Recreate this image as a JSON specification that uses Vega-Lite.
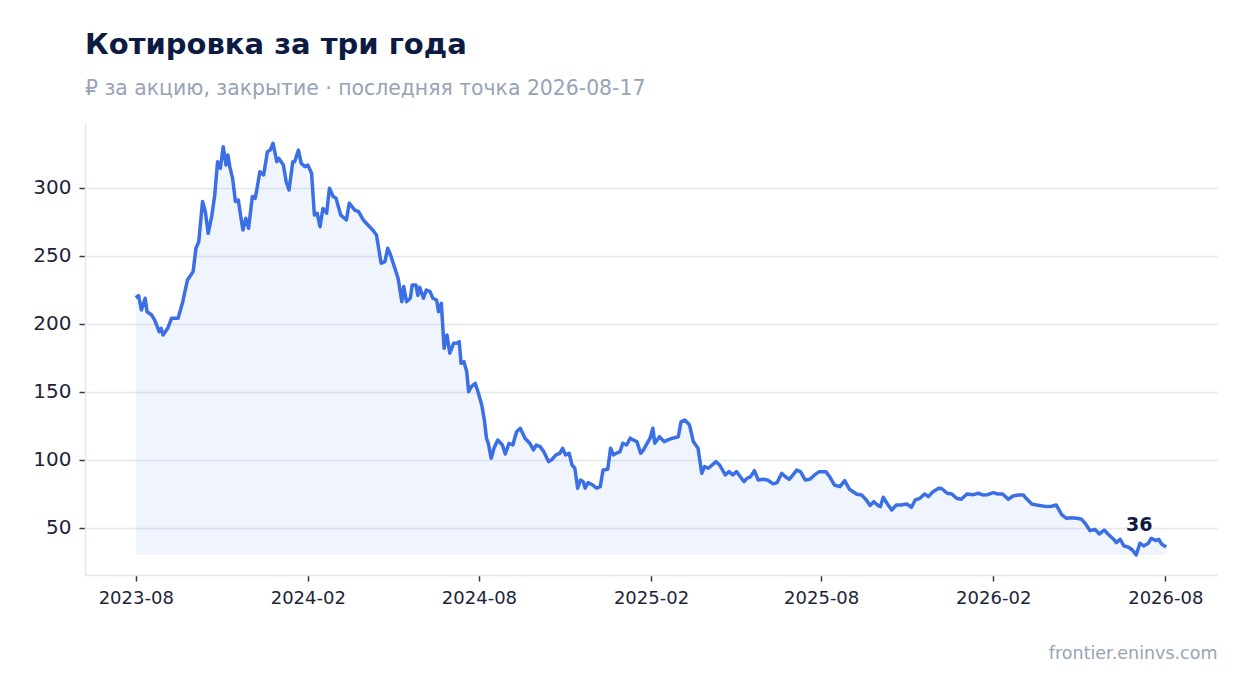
{
  "$schema": "https://vega.github.io/schema/vega-lite/v6.json",
  "autosize": {"type": "none"},
  "width": 1132,
  "height": 452,
  "padding": {"left": 85, "top": 123, "right": 30, "bottom": 118},
  "background": "white",
  "title": {
    "text": "Котировка за три года",
    "subtitle": "₽ за акцию, закрытие · последняя точка 2026-08-17",
    "anchor": "start",
    "frame": "group",
    "fontSize": 29,
    "fontWeight": "bold",
    "color": "#0c1b42",
    "subtitleFontSize": 20.4,
    "subtitleColor": "#97a3b6",
    "subtitlePadding": 19,
    "offset": 24
  },
  "data": {
    "values": [
      {"date": "2023-08-17", "close": 219.3},
      {"date": "2023-08-20", "close": 220.8},
      {"date": "2023-08-23", "close": 210.3},
      {"date": "2023-08-27", "close": 218.9},
      {"date": "2023-08-29", "close": 209},
      {"date": "2023-09-03", "close": 206.6},
      {"date": "2023-09-06", "close": 203},
      {"date": "2023-09-11", "close": 194.3},
      {"date": "2023-09-13", "close": 196.8},
      {"date": "2023-09-15", "close": 191.9},
      {"date": "2023-09-20", "close": 196.8},
      {"date": "2023-09-24", "close": 204.2},
      {"date": "2023-10-01", "close": 204.2},
      {"date": "2023-10-06", "close": 216.4},
      {"date": "2023-10-11", "close": 232.4},
      {"date": "2023-10-17", "close": 238.5},
      {"date": "2023-10-20", "close": 255.7},
      {"date": "2023-10-23", "close": 260.5},
      {"date": "2023-10-27", "close": 290},
      {"date": "2023-10-30", "close": 282.6},
      {"date": "2023-11-02", "close": 266.7},
      {"date": "2023-11-06", "close": 280.1},
      {"date": "2023-11-09", "close": 294.9},
      {"date": "2023-11-12", "close": 319.3},
      {"date": "2023-11-15", "close": 314.5},
      {"date": "2023-11-18", "close": 330.4},
      {"date": "2023-11-21", "close": 316.9},
      {"date": "2023-11-23", "close": 324.3},
      {"date": "2023-11-25", "close": 315.7},
      {"date": "2023-11-28", "close": 307.1},
      {"date": "2023-12-01", "close": 290},
      {"date": "2023-12-04", "close": 291.2},
      {"date": "2023-12-07", "close": 277.7},
      {"date": "2023-12-09", "close": 269.1},
      {"date": "2023-12-12", "close": 277.7},
      {"date": "2023-12-15", "close": 270.4},
      {"date": "2023-12-19", "close": 293.7},
      {"date": "2023-12-22", "close": 292.4},
      {"date": "2023-12-24", "close": 299.8},
      {"date": "2023-12-27", "close": 312},
      {"date": "2023-12-31", "close": 309.6},
      {"date": "2024-01-04", "close": 326.7},
      {"date": "2024-01-07", "close": 327.9},
      {"date": "2024-01-10", "close": 332.9},
      {"date": "2024-01-14", "close": 319.3},
      {"date": "2024-01-16", "close": 321.8},
      {"date": "2024-01-21", "close": 316.9},
      {"date": "2024-01-24", "close": 304.6},
      {"date": "2024-01-27", "close": 298.5},
      {"date": "2024-01-31", "close": 319.3},
      {"date": "2024-02-02", "close": 319.3},
      {"date": "2024-02-06", "close": 327.9},
      {"date": "2024-02-09", "close": 318.1},
      {"date": "2024-02-13", "close": 315.7},
      {"date": "2024-02-16", "close": 316.9},
      {"date": "2024-02-20", "close": 310.8},
      {"date": "2024-02-23", "close": 280.1},
      {"date": "2024-02-26", "close": 281.4},
      {"date": "2024-02-29", "close": 271.5},
      {"date": "2024-03-03", "close": 285},
      {"date": "2024-03-07", "close": 281.4},
      {"date": "2024-03-10", "close": 299.8},
      {"date": "2024-03-14", "close": 293.7},
      {"date": "2024-03-17", "close": 292.4},
      {"date": "2024-03-19", "close": 287.5},
      {"date": "2024-03-22", "close": 280.1},
      {"date": "2024-03-28", "close": 276.5},
      {"date": "2024-03-31", "close": 288.8},
      {"date": "2024-04-06", "close": 283.8},
      {"date": "2024-04-10", "close": 282.6},
      {"date": "2024-04-15", "close": 276.5},
      {"date": "2024-04-20", "close": 272.8},
      {"date": "2024-04-25", "close": 269.1},
      {"date": "2024-04-29", "close": 265.4},
      {"date": "2024-05-04", "close": 244.6},
      {"date": "2024-05-08", "close": 245.8},
      {"date": "2024-05-11", "close": 255.7},
      {"date": "2024-05-14", "close": 250.7},
      {"date": "2024-05-18", "close": 242.2},
      {"date": "2024-05-22", "close": 233.6},
      {"date": "2024-05-26", "close": 216.4},
      {"date": "2024-05-28", "close": 227.5},
      {"date": "2024-05-31", "close": 216.4},
      {"date": "2024-06-04", "close": 218.9},
      {"date": "2024-06-06", "close": 228.7},
      {"date": "2024-06-10", "close": 228.7},
      {"date": "2024-06-12", "close": 221},
      {"date": "2024-06-14", "close": 227},
      {"date": "2024-06-18", "close": 218.9},
      {"date": "2024-06-21", "close": 225},
      {"date": "2024-06-25", "close": 223.8},
      {"date": "2024-06-28", "close": 218.9},
      {"date": "2024-07-02", "close": 217.6},
      {"date": "2024-07-04", "close": 209},
      {"date": "2024-07-07", "close": 215.2},
      {"date": "2024-07-10", "close": 182.1},
      {"date": "2024-07-13", "close": 191.9},
      {"date": "2024-07-16", "close": 178.5},
      {"date": "2024-07-20", "close": 185.8},
      {"date": "2024-07-23", "close": 185.8},
      {"date": "2024-07-26", "close": 187},
      {"date": "2024-07-28", "close": 171.1},
      {"date": "2024-07-31", "close": 172.3},
      {"date": "2024-08-03", "close": 165},
      {"date": "2024-08-05", "close": 150.2},
      {"date": "2024-08-08", "close": 153.9},
      {"date": "2024-08-12", "close": 156.4},
      {"date": "2024-08-15", "close": 150.2},
      {"date": "2024-08-19", "close": 140.4},
      {"date": "2024-08-22", "close": 128.2},
      {"date": "2024-08-24", "close": 116},
      {"date": "2024-08-26", "close": 112},
      {"date": "2024-08-29", "close": 101.3},
      {"date": "2024-09-01", "close": 108.6},
      {"date": "2024-09-05", "close": 114.7},
      {"date": "2024-09-10", "close": 111},
      {"date": "2024-09-13", "close": 104.4},
      {"date": "2024-09-17", "close": 112.3},
      {"date": "2024-09-21", "close": 111},
      {"date": "2024-09-25", "close": 120.8},
      {"date": "2024-09-29", "close": 123.3},
      {"date": "2024-10-04", "close": 116},
      {"date": "2024-10-09", "close": 112.3},
      {"date": "2024-10-13", "close": 107.4},
      {"date": "2024-10-16", "close": 111},
      {"date": "2024-10-20", "close": 109.8},
      {"date": "2024-10-24", "close": 106.1},
      {"date": "2024-10-29", "close": 98.8},
      {"date": "2024-11-01", "close": 100},
      {"date": "2024-11-06", "close": 103.7},
      {"date": "2024-11-10", "close": 104.9},
      {"date": "2024-11-13", "close": 108.6},
      {"date": "2024-11-16", "close": 103.7},
      {"date": "2024-11-20", "close": 104.9},
      {"date": "2024-11-23", "close": 96.3},
      {"date": "2024-11-26", "close": 93.9},
      {"date": "2024-11-29", "close": 79.2},
      {"date": "2024-12-02", "close": 85.3},
      {"date": "2024-12-05", "close": 84},
      {"date": "2024-12-07", "close": 79.2},
      {"date": "2024-12-10", "close": 83.3},
      {"date": "2024-12-15", "close": 81.6},
      {"date": "2024-12-19", "close": 79.2},
      {"date": "2024-12-23", "close": 80.4},
      {"date": "2024-12-26", "close": 92.6},
      {"date": "2024-12-31", "close": 93.1},
      {"date": "2025-01-03", "close": 108.6},
      {"date": "2025-01-06", "close": 103.7},
      {"date": "2025-01-09", "close": 104.9},
      {"date": "2025-01-13", "close": 106.1},
      {"date": "2025-01-16", "close": 112.3},
      {"date": "2025-01-20", "close": 111},
      {"date": "2025-01-24", "close": 116},
      {"date": "2025-01-27", "close": 114.7},
      {"date": "2025-01-31", "close": 113.5},
      {"date": "2025-02-04", "close": 104.9},
      {"date": "2025-02-07", "close": 107.4},
      {"date": "2025-02-11", "close": 112.3},
      {"date": "2025-02-14", "close": 116},
      {"date": "2025-02-17", "close": 123.3},
      {"date": "2025-02-19", "close": 112.3},
      {"date": "2025-02-24", "close": 117.1},
      {"date": "2025-03-01", "close": 113.5},
      {"date": "2025-03-05", "close": 114.7},
      {"date": "2025-03-10", "close": 116},
      {"date": "2025-03-16", "close": 117.1},
      {"date": "2025-03-19", "close": 128.2},
      {"date": "2025-03-23", "close": 129.4},
      {"date": "2025-03-28", "close": 125.7},
      {"date": "2025-04-01", "close": 113.5},
      {"date": "2025-04-06", "close": 108.6},
      {"date": "2025-04-10", "close": 90.2},
      {"date": "2025-04-13", "close": 95.1},
      {"date": "2025-04-17", "close": 93.9},
      {"date": "2025-04-21", "close": 96.3},
      {"date": "2025-04-25", "close": 98.8},
      {"date": "2025-04-29", "close": 96.3},
      {"date": "2025-05-05", "close": 89},
      {"date": "2025-05-09", "close": 91.4},
      {"date": "2025-05-13", "close": 89},
      {"date": "2025-05-17", "close": 91.4},
      {"date": "2025-05-21", "close": 87.7},
      {"date": "2025-05-25", "close": 84},
      {"date": "2025-05-28", "close": 86.5},
      {"date": "2025-06-01", "close": 87.7},
      {"date": "2025-06-05", "close": 92.1},
      {"date": "2025-06-09", "close": 85.3},
      {"date": "2025-06-14", "close": 85.8},
      {"date": "2025-06-19", "close": 85.3},
      {"date": "2025-06-25", "close": 82.4},
      {"date": "2025-06-29", "close": 83.3},
      {"date": "2025-07-04", "close": 90.2},
      {"date": "2025-07-08", "close": 87.7},
      {"date": "2025-07-12", "close": 85.8},
      {"date": "2025-07-16", "close": 89},
      {"date": "2025-07-20", "close": 92.6},
      {"date": "2025-07-24", "close": 91.4},
      {"date": "2025-07-29", "close": 85.3},
      {"date": "2025-08-03", "close": 85.8},
      {"date": "2025-08-08", "close": 89},
      {"date": "2025-08-13", "close": 91.4},
      {"date": "2025-08-20", "close": 91.4},
      {"date": "2025-08-24", "close": 87.7},
      {"date": "2025-08-29", "close": 81.6},
      {"date": "2025-09-04", "close": 80.4},
      {"date": "2025-09-09", "close": 84.8},
      {"date": "2025-09-14", "close": 78.5},
      {"date": "2025-09-22", "close": 74.8},
      {"date": "2025-09-27", "close": 74.3},
      {"date": "2025-10-02", "close": 70.6},
      {"date": "2025-10-06", "close": 66.5},
      {"date": "2025-10-10", "close": 69.3},
      {"date": "2025-10-15", "close": 66.2},
      {"date": "2025-10-17", "close": 65.7},
      {"date": "2025-10-20", "close": 72.6},
      {"date": "2025-10-24", "close": 68.2},
      {"date": "2025-10-29", "close": 63.2},
      {"date": "2025-11-03", "close": 66.9},
      {"date": "2025-11-08", "close": 66.9},
      {"date": "2025-11-14", "close": 67.6},
      {"date": "2025-11-19", "close": 65.2},
      {"date": "2025-11-23", "close": 70.6},
      {"date": "2025-11-28", "close": 71.8},
      {"date": "2025-12-03", "close": 75},
      {"date": "2025-12-07", "close": 73},
      {"date": "2025-12-12", "close": 76.7},
      {"date": "2025-12-18", "close": 79.2},
      {"date": "2025-12-21", "close": 79},
      {"date": "2025-12-27", "close": 75.5},
      {"date": "2026-01-01", "close": 75},
      {"date": "2026-01-06", "close": 71.8},
      {"date": "2026-01-11", "close": 71.1},
      {"date": "2026-01-17", "close": 75},
      {"date": "2026-01-24", "close": 74.5},
      {"date": "2026-01-29", "close": 75.5},
      {"date": "2026-02-03", "close": 74.3},
      {"date": "2026-02-08", "close": 74.5},
      {"date": "2026-02-14", "close": 76},
      {"date": "2026-02-19", "close": 75},
      {"date": "2026-02-24", "close": 75},
      {"date": "2026-03-02", "close": 71.1},
      {"date": "2026-03-07", "close": 73.5},
      {"date": "2026-03-13", "close": 74.3},
      {"date": "2026-03-18", "close": 74.3},
      {"date": "2026-03-21", "close": 71.8},
      {"date": "2026-03-27", "close": 67.6},
      {"date": "2026-04-01", "close": 66.9},
      {"date": "2026-04-06", "close": 66.4},
      {"date": "2026-04-12", "close": 65.7},
      {"date": "2026-04-17", "close": 66},
      {"date": "2026-04-22", "close": 66.9},
      {"date": "2026-04-28", "close": 59.6},
      {"date": "2026-05-03", "close": 57.1},
      {"date": "2026-05-08", "close": 57.5},
      {"date": "2026-05-14", "close": 57.1},
      {"date": "2026-05-19", "close": 56.4},
      {"date": "2026-05-24", "close": 52.2},
      {"date": "2026-05-28", "close": 48},
      {"date": "2026-06-02", "close": 49},
      {"date": "2026-06-07", "close": 45.6},
      {"date": "2026-06-12", "close": 48.5},
      {"date": "2026-06-16", "close": 45.6},
      {"date": "2026-06-22", "close": 41.7},
      {"date": "2026-06-25", "close": 39.2},
      {"date": "2026-06-29", "close": 41.7},
      {"date": "2026-07-03", "close": 36.8},
      {"date": "2026-07-08", "close": 35.8},
      {"date": "2026-07-12", "close": 33.8},
      {"date": "2026-07-16", "close": 30.1},
      {"date": "2026-07-20", "close": 38.8},
      {"date": "2026-07-24", "close": 36.8},
      {"date": "2026-07-29", "close": 38.8},
      {"date": "2026-08-01", "close": 42.4},
      {"date": "2026-08-06", "close": 40.7},
      {"date": "2026-08-09", "close": 41.7},
      {"date": "2026-08-12", "close": 38.2},
      {"date": "2026-08-17", "close": 36}
    ]
  },
  "encoding": {
    "x": {
      "field": "date",
      "type": "temporal",
      "scale": {"domain": [
        {"year": 2023, "month": 6, "date": 24},
        {"year": 2026, "month": 10, "date": 10}
      ]},
      "axis": {
        "values": [
          {"year": 2023, "month": 8, "date": 17},
          {"year": 2024, "month": 2, "date": 16},
          {"year": 2024, "month": 8, "date": 16},
          {"year": 2025, "month": 2, "date": 15},
          {"year": 2025, "month": 8, "date": 15},
          {"year": 2026, "month": 2, "date": 14},
          {"year": 2026, "month": 8, "date": 16}
        ],
        "format": "%Y-%m",
        "grid": false,
        "labelFontSize": 18,
        "labelPadding": 8,
        "title": "frontier.eninvs.com",
        "titleAnchor": "end",
        "titleAlign": "right",
        "titleFontSize": 17.5,
        "titleFontWeight": "normal",
        "titleColor": "#97a3b6",
        "titlePadding": 37
      }
    },
    "y": {
      "field": "close",
      "type": "quantitative",
      "scale": {"domain": [15.4, 347.8], "nice": false, "zero": false},
      "axis": {
        "values": [50, 100, 150, 200, 250, 300],
        "title": null,
        "labelFontSize": 20,
        "labelPadding": 8,
        "grid": true
      }
    }
  },
  "layer": [
    {
      "mark": {"type": "area", "color": "#3b6fe6", "fillOpacity": 0.08},
      "encoding": {"y2": {"datum": 30.1}}
    },
    {
      "mark": {"type": "line", "color": "#3b6fe6", "strokeWidth": 3.5, "strokeJoin": "round"}
    },
    {
      "transform": [{"filter": "datum.close == 36"}],
      "mark": {
        "type": "text",
        "fontSize": 19,
        "fontWeight": "bold",
        "color": "#0c1b42",
        "dx": -27,
        "dy": -22
      },
      "encoding": {"text": {"field": "close", "type": "quantitative", "format": "d"}}
    }
  ],
  "config": {
    "font": "DejaVu Sans",
    "view": {"stroke": null},
    "axis": {
      "domainColor": "#e2e7ef",
      "domainWidth": 1.5,
      "tickColor": "#2f3a4d",
      "tickSize": 6,
      "tickWidth": 1.5,
      "labelColor": "#1c2538",
      "gridColor": "#e4e8f0",
      "gridWidth": 1.5
    }
  }
}
